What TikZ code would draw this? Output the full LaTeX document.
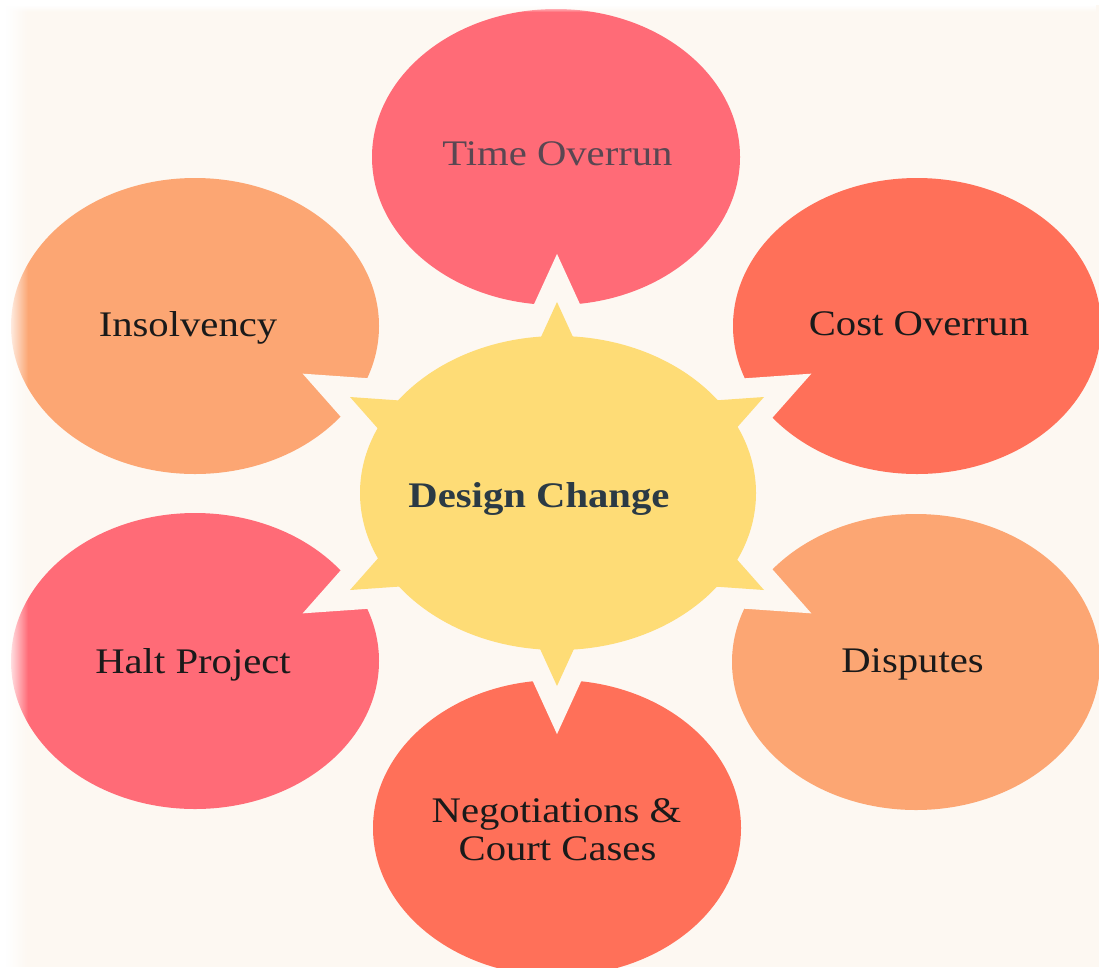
\documentclass[tikz,border=0pt]{standalone}
\usepackage{fontspec}
\usepackage{graphicx}
\setmainfont{Liberation Serif}
\usetikzlibrary{shapes.geometric,fadings}

\definecolor{paper}{HTML}{FDF8F2}
\definecolor{rose}{HTML}{FF6B77}
\definecolor{peach}{HTML}{FCA673}
\definecolor{coral}{HTML}{FF7059}
\definecolor{sun}{HTML}{FEDC76}
\definecolor{ink}{HTML}{1A1A1A}
\definecolor{greyink}{HTML}{5A4752}
\definecolor{slate}{HTML}{2B3A45}

\tikzfading[name=fadeleft, left color=transparent!0, right color=transparent!100]
\tikzfading[name=fadetop, top color=transparent!0, bottom color=transparent!100]

% slightly widened lettering
\newcommand{\widetext}[1]{\scalebox{1.13}[1]{#1}}

\begin{document}
\begin{tikzpicture}[x=1pt,y=-1pt,
  petal/.style={ellipse, inner sep=0pt, minimum width=368pt, minimum height=296pt},
  gap/.style={draw=paper, line width=40pt, line join=miter, miter limit=10},
  lbl/.style={font=\fontsize{36}{42}\selectfont, anchor=base, inner sep=0pt, text=ink}]

\useasboundingbox (0,0) rectangle (1099,967);
\fill[paper] (0,0) rectangle (1099,967);

% outer effects
\node[petal, fill=rose]  (timeE) at (556,157) {};
\node[petal, fill=peach] (insE)  at (195,326) {};
\node[petal, fill=coral] (costE) at (917,326) {};
\node[petal, fill=rose]  (haltE) at (195,661) {};
\node[petal, fill=peach] (dispE) at (916,662) {};
\node[petal, fill=coral] (negE)  at (557,828) {};

% cream outline around the central burst, cutting notches into the petals
\draw[gap] (517,389.5) -- (557,302) -- (597,389.5);
\draw[gap] (517,598.5) -- (557,686) -- (597,598.5);
\draw[gap] (457.5,404.5) -- (350,397) -- (407.5,462);
\draw[gap] (656.5,404.5) -- (764,397) -- (706.5,462);
\draw[gap] (457.5,582.5) -- (350,590) -- (407.5,525);
\draw[gap] (656.5,582.5) -- (764,590) -- (706.5,525);
\draw[draw=paper, line width=40pt] (558,493) ellipse [x radius=198, y radius=157];

% central burst
\node[ellipse, fill=sun, inner sep=0pt, minimum width=396pt, minimum height=314pt] (hub) at (558,493) {};
\fill[sun] (557,302) -- (517,389.5) -- (597,389.5) -- cycle;
\fill[sun] (557,686) -- (517,598.5) -- (597,598.5) -- cycle;
\fill[sun] (350,397) -- (457.5,404.5) -- (407.5,462) -- cycle;
\fill[sun] (764,397) -- (656.5,404.5) -- (706.5,462) -- cycle;
\fill[sun] (350,590) -- (457.5,582.5) -- (407.5,525) -- cycle;
\fill[sun] (764,590) -- (656.5,582.5) -- (706.5,525) -- cycle;

% labels
\node[lbl, text=slate, font=\fontsize{36}{42}\selectfont\bfseries] (hubT) at (539,507) {\widetext{Design Change}};
\node[lbl, text=greyink] (timeT) at (557.5,165) {\widetext{Time Overrun}};
\node[lbl] (insT)  at (188,336) {\widetext{Insolvency}};
\node[lbl] (costT) at (919,335) {\widetext{Cost Overrun}};
\node[lbl] (haltT) at (193,673) {\widetext{Halt Project}};
\node[lbl] (dispT) at (912.5,672) {\widetext{Disputes}};
\node[lbl] (negT1) at (556.5,822) {\widetext{Negotiations \&}};
\node[lbl] (negT2) at (557.5,860) {\widetext{Court Cases}};

% soft white margin on the left and top edges
\fill[white] (0,0) rectangle (6,967);
\fill[white, path fading=fadeleft] (6,0) rectangle (28,967);
\fill[white] (0,0) rectangle (1099,5);
\fill[white, path fading=fadetop] (0,5) rectangle (1099,12);
\end{tikzpicture}
\end{document}
